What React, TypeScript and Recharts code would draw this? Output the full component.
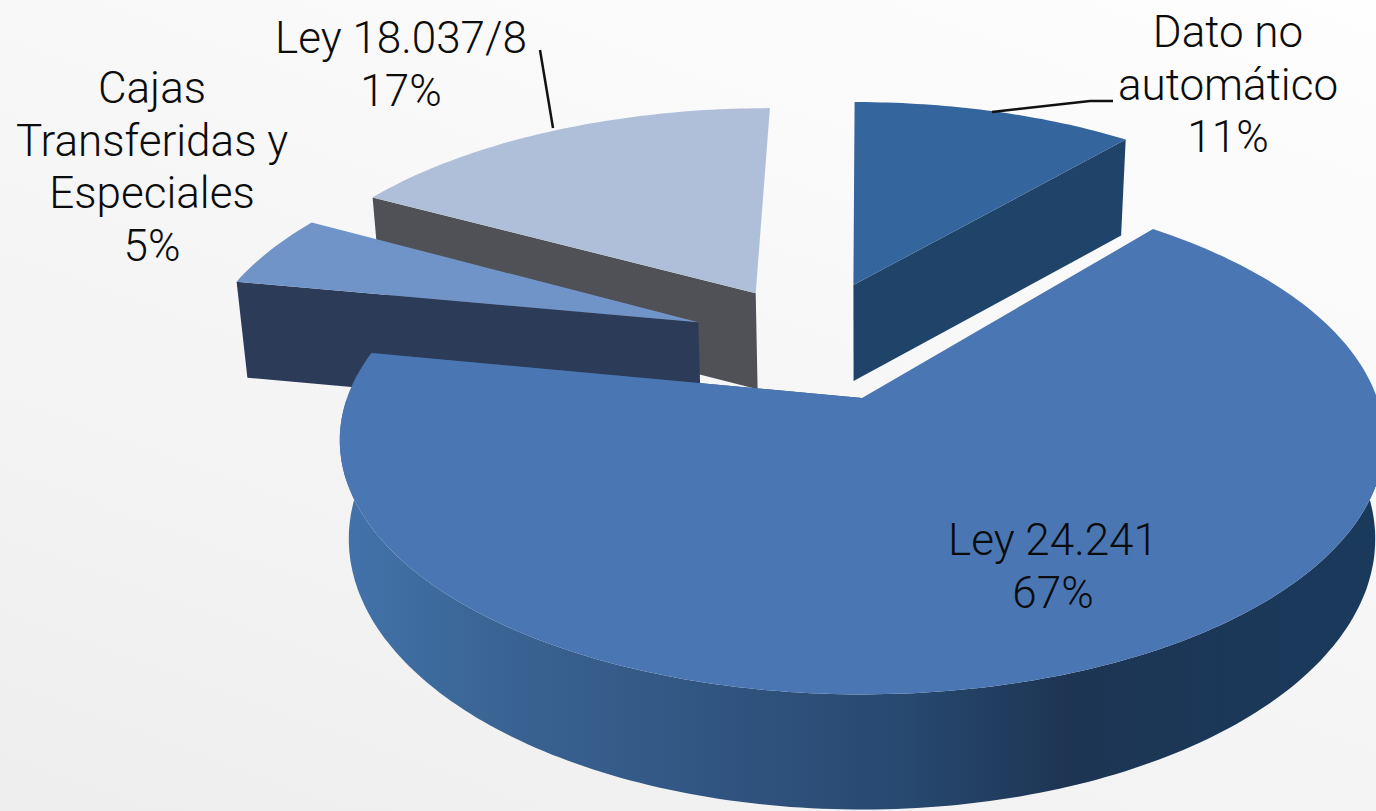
import { PieChart, Pie } from "recharts";

// drawn back to front, counter-clockwise from the top
const categories = ["Ley 18.037/8", "Cajas Transferidas y Especiales", "Ley 24.241", "Dato no automático"];
const shares = [17, 5, 67, 11];
const labelRows = [["Ley 18.037/8"], ["Cajas", "Transferidas y", "Especiales"], ["Ley 24.241"], ["Dato no", "automático"]];

const topColors = ["#b0bfd9", "#7094c8", "#4a77b3", "#34659c"];
const wallColors = ["#4f5156", "#2c3c58", "url(#mainWall)", "#1f4369"];
// how far each slice is pulled out, in radius units
const explode = [[-0.222, 0.456], [-0.335, 0.323], [0, 0], [-0.018, 0.494]];
const labelPos = [[401, 53], [152, 103], [1053, 555], [1228, 47]];
const leaders = ["M540 50L553 128", "", "", "M992 112L1090 101L1113 101"];

const TILT = 0.48;
const PERSP = 0.166;
const DEPTH = 96;
const SHRINK = 0.00018; // the underside sits further away, so it draws a bit narrower
const RAD = Math.PI / 180;

const data = categories.map((name, i) => ({ name, value: shares[i] }));

function Slice3D(props: any) {
  const { cx, cy, outerRadius: R, startAngle, endAngle, index } = props;
  const [ex, ey] = explode[index];

  const pt = (u: number, v: number, lift = 0) => {
    const s = 1 / (1 + PERSP * v);
    return [cx + u * R * s * (1 - lift * SHRINK), cy - v * R * TILT * s + lift * Math.max(s, 1)];
  };
  const rim = (a: number, lift = 0) => pt(ex + Math.cos(a * RAD), ey + Math.sin(a * RAD), lift);
  const apex = pt(ex, ey);
  const apexLow = pt(ex, ey, DEPTH);

  const lo = Math.min(startAngle, endAngle);
  const hi = Math.max(startAngle, endAngle);
  const arc: number[] = [];
  for (let a = lo; a < hi; a += 1) arc.push(a);
  arc.push(hi);

  const d = (pts: number[][]) => "M" + pts.map((p) => p[0].toFixed(1) + " " + p[1].toFixed(1)).join("L") + "Z";
  const top = d([apex, ...arc.map((a) => rim(a))]);
  // the curved wall only shows along the front half
  const frontArc = arc.filter((a) => Math.sin(a * RAD) < 0);
  const outer = frontArc.length > 1
    ? d([...frontArc.map((a) => rim(a)), ...[...frontArc].reverse().map((a) => rim(a, DEPTH))])
    : "";
  // only the cut face nearer the viewer shows
  const front = rim(lo)[1] > rim(hi)[1] ? lo : hi;
  const wall = d([apex, rim(front), rim(front, DEPTH), apexLow]);
  const flat = index === 2 ? "#2c4f78" : wallColors[index];

  return (
    <g>
      <path d={wall} fill={flat} />
      {outer && <path d={outer} fill={wallColors[index]} />}
      <path d={top} fill={topColors[index]} />
    </g>
  );
}

function SliceLabel(props: any) {
  const { index } = props;
  const [x, y] = labelPos[index];
  const rows = [...labelRows[index], shares[index] + "%"];
  return (
    <g>
      {leaders[index] && <path d={leaders[index]} fill="none" stroke="#111" strokeWidth={2.5} />}
      <text textAnchor="middle" fontFamily="Roboto" fontWeight={300} fontSize={44} fill="#0c0c0c">
        {rows.map((r, i) => (
          <tspan key={i} x={x} y={y + i * 52.5}>{r}</tspan>
        ))}
      </text>
    </g>
  );
}

export default function App() {
  return (
    <div style={{ position: "absolute", left: 0, top: 0, width: 1376, height: 811, overflow: "hidden", background: "linear-gradient(200deg, #fefefe, #eeeeee)" }}>
      <PieChart width={1376} height={811} margin={{ top: 0, right: 0, bottom: 0, left: 0 }}>
        <defs>
          <linearGradient id="mainWall" gradientUnits="userSpaceOnUse" x1="340" y1="0" x2="1376" y2="0">
            <stop offset="0" stopColor="#4273ab" />
            <stop offset="0.15" stopColor="#3a6494" />
            <stop offset="0.4" stopColor="#2f527d" />
            <stop offset="0.55" stopColor="#27486f" />
            <stop offset="0.7" stopColor="#1d3553" />
            <stop offset="1" stopColor="#1a3a5c" />
          </linearGradient>
        </defs>
        <Pie
          data={data}
          dataKey="value"
          nameKey="name"
          cx={862}
          cy={398}
          outerRadius={515}
          startAngle={90}
          endAngle={450}
          paddingAngle={0}
          stroke="none"
          shape={Slice3D}
          label={SliceLabel}
          labelLine={false}
          isAnimationActive={false}
        />
      </PieChart>
    </div>
  );
}
